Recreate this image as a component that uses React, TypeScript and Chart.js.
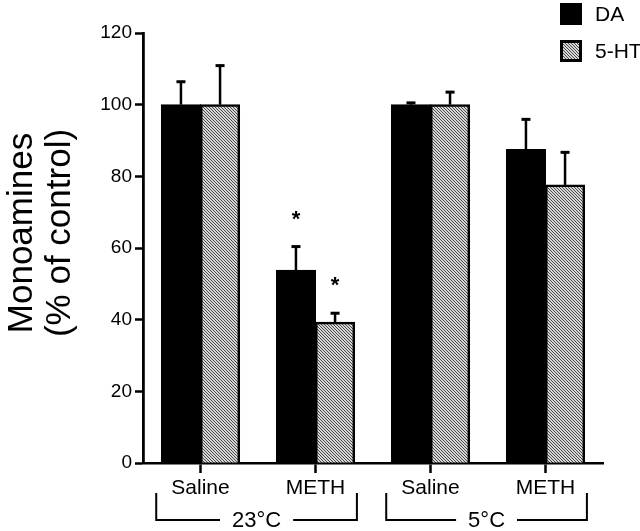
import React, { useEffect, useRef } from "react";
import { Chart, registerables } from "chart.js";

Chart.register(...registerables);

const categories = ["Saline", "METH", "Saline", "METH"];
const groupLabels = ["23°C", "5°C"];
const groupStart = [0, 2];
const groupEnd = [1, 3];
const seriesNames = ["DA", "5-HT"];
const daValues = [100, 53.8, 100, 87.5];
const daErrors = [6.4, 6.6, 0.5, 8.4];
const htValues = [100, 39.3, 100, 77.6];
const htErrors = [10.9, 2.5, 3.5, 9.1];
const daSig = [false, true, false, false];
const htSig = [false, true, false, false];
const yMin = 0;
const yMax = 120;
const yStep = 20;
const yTitle = ["Monoamines", "(% of control)"];

const FONT = "'Liberation Sans', Arial, Helvetica, sans-serif";

function makeHatch(): CanvasPattern | string {
  const c = document.createElement("canvas");
  c.width = 3;
  c.height = 3;
  const g = c.getContext("2d");
  if (!g) return "#aaa";
  g.fillStyle = "#d6d6d6";
  g.fillRect(0, 0, 3, 3);
  g.fillStyle = "#4a4a4a";
  for (let i = 0; i < 3; i++) g.fillRect(i, i, 1, 1);
  const p = g.createPattern(c, "repeat");
  return p || "#aaa";
}

export default function App() {
  const ref = useRef<HTMLCanvasElement>(null);

  useEffect(() => {
    if (!ref.current) return;
    const hatch = makeHatch();
    const errs = [daErrors, htErrors];
    const sigs = [daSig, htSig];

    const overlay = {
      id: "overlay",
      afterDatasetsDraw(chart: any) {
        const ctx = chart.ctx as CanvasRenderingContext2D;
        const ys = chart.scales.y;
        const xs = chart.scales.x;
        ctx.save();
        // error bars + asterisks
        chart.data.datasets.forEach((ds: any, di: number) => {
          const meta = chart.getDatasetMeta(di);
          meta.data.forEach((el: any, i: number) => {
            const v = ds.data[i] as number;
            const top = ys.getPixelForValue(v + errs[di][i]);
            ctx.strokeStyle = "#000";
            ctx.lineWidth = 2.5;
            ctx.beginPath();
            ctx.moveTo(el.x, el.y);
            ctx.lineTo(el.x, top);
            ctx.stroke();
            ctx.lineWidth = 3;
            ctx.beginPath();
            ctx.moveTo(el.x - 4.5, top);
            ctx.lineTo(el.x + 4.5, top);
            ctx.stroke();
            if (sigs[di][i]) {
              ctx.fillStyle = "#000";
              ctx.font = `bold 22px ${FONT}`;
              ctx.textAlign = "center";
              ctx.textBaseline = "middle";
              ctx.fillText("*", el.x, top - 27);
            }
          });
        });
        // group brackets
        const cw = xs.getPixelForValue(1) - xs.getPixelForValue(0);
        ctx.lineWidth = 2;
        ctx.strokeStyle = "#000";
        ctx.fillStyle = "#000";
        ctx.font = `22px ${FONT}`;
        ctx.textAlign = "center";
        ctx.textBaseline = "middle";
        groupLabels.forEach((lab, gi) => {
          const l = xs.getPixelForValue(groupStart[gi]) - cw * 0.385;
          const r = xs.getPixelForValue(groupEnd[gi]) + cw * 0.36;
          const yTop = 493;
          const yBot = 520;
          const cx = (l + r) / 2;
          const tw = ctx.measureText(lab).width;
          const gap = tw / 2 + 12;
          ctx.beginPath();
          ctx.moveTo(l, yTop);
          ctx.lineTo(l, yBot);
          ctx.lineTo(cx - gap, yBot);
          ctx.moveTo(cx + gap, yBot);
          ctx.lineTo(r, yBot);
          ctx.lineTo(r, yTop);
          ctx.stroke();
          ctx.fillText(lab, cx, yBot + 1);
        });
        // legend
        const lx = 560;
        const sq = 22;
        const rows = [3, 40];
        ctx.textAlign = "left";
        ctx.font = `21px ${FONT}`;
        seriesNames.forEach((name, si) => {
          const y0 = rows[si];
          const ds = chart.data.datasets[si];
          ctx.fillStyle = ds.backgroundColor;
          ctx.fillRect(lx, y0, sq, sq);
          ctx.lineWidth = 3;
          ctx.strokeStyle = "#000";
          ctx.strokeRect(lx + 1.5, y0 + 1.5, sq - 3, sq - 3);
          ctx.fillStyle = "#000";
          ctx.fillText(name, lx + 35, y0 + sq / 2 + 1);
        });
        // y title
        ctx.font = `35px ${FONT}`;
        ctx.textAlign = "center";
        ctx.textBaseline = "middle";
        ctx.fillStyle = "#000";
        const cy = 233;
        const xsPos = [22, 60];
        yTitle.forEach((t, ti) => {
          ctx.save();
          ctx.translate(xsPos[ti], cy);
          ctx.rotate(-Math.PI / 2);
          ctx.fillText(t, 0, 0);
          ctx.restore();
        });
        ctx.restore();
      },
    };

    const chart = new Chart(ref.current, {
      type: "bar",
      data: {
        labels: categories,
        datasets: [
          {
            label: seriesNames[0],
            data: daValues,
            backgroundColor: "#000",
            borderColor: "#000",
            borderWidth: 2,
            categoryPercentage: 0.68,
            barPercentage: 1,
            inflateAmount: 0.5,
          },
          {
            label: seriesNames[1],
            data: htValues,
            backgroundColor: hatch as any,
            borderColor: "#000",
            borderWidth: 2.5,
            categoryPercentage: 0.68,
            barPercentage: 1,
            inflateAmount: 0.5,
          },
        ],
      },
      options: {
        animation: false,
        responsive: true,
        maintainAspectRatio: false,
        layout: { padding: { top: 33, right: 37, left: 0, bottom: 0 } },
        plugins: {
          legend: { display: false },
          tooltip: { enabled: false },
          title: { display: false },
        },
        scales: {
          x: {
            offset: true,
            grid: {
              offset: false,
              drawOnChartArea: false,
              drawTicks: true,
              tickLength: 10,
              tickWidth: 2.5,
              tickColor: "#000",
            },
            border: { display: true, color: "#000", width: 2.5 },
            ticks: {
              color: "#000",
              font: { family: FONT, size: 21 },
              padding: 3,
              maxRotation: 0,
            },
            afterFit: (s: any) => {
              s.height = 68;
            },
          },
          y: {
            min: yMin,
            max: yMax,
            grid: {
              drawOnChartArea: false,
              drawTicks: true,
              tickLength: 8,
              tickWidth: 2.5,
              tickColor: "#000",
            },
            border: { display: true, color: "#000", width: 2.8 },
            ticks: {
              stepSize: yStep,
              color: "#000",
              font: { family: FONT, size: 19 },
              padding: 3,
            },
            afterFit: (s: any) => {
              s.width = 143;
            },
          },
        },
      },
      plugins: [overlay],
    });
    return () => chart.destroy();
  }, []);

  return (
    <div style={{ position: "absolute", left: 0, top: 0, width: 640, height: 531, background: "#fff" }}>
      <canvas ref={ref} />
    </div>
  );
}
